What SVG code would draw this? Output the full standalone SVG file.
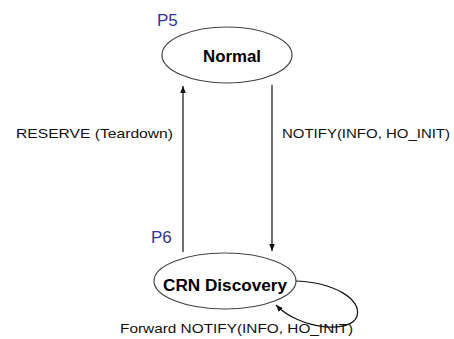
<svg xmlns="http://www.w3.org/2000/svg" width="454" height="339" viewBox="0 0 454 339">
<style>
.state{fill:#fff;stroke:#444;stroke-width:1.2}
.name{font-family:"Liberation Sans",Arial,sans-serif;font-weight:bold;fill:#000}
.lbl{font-family:"Liberation Sans",Arial,sans-serif;font-size:13px;fill:#111}
.tag{font-family:"Liberation Sans",Arial,sans-serif;font-size:17px;fill:#333399}
.edge{fill:none;stroke:#111;stroke-width:1.2}
</style>
<defs>
<marker id="ah" viewBox="0 0 10 10" refX="10" refY="5" markerWidth="7" markerHeight="7" orient="auto" markerUnits="userSpaceOnUse">
<path d="M0,1 L10,5 L0,9 Z" fill="#111"/>
</marker>
</defs>
<rect width="454" height="339" fill="#fff"/>
<g id="connectors">
<line class="edge" x1="183" y1="252" x2="183" y2="86" marker-end="url(#ah)"/>
<line class="edge" x1="272" y1="85" x2="272" y2="251" marker-end="url(#ah)"/>
<path class="edge" d="M294,281 C335,282 362,300 357,316 C352,334 300,330 276,305" marker-end="url(#ah)"/>
<text class="lbl" x="16" y="138" textLength="157" lengthAdjust="spacingAndGlyphs">RESERVE (Teardown)</text>
<text class="lbl" x="282" y="138" textLength="168" lengthAdjust="spacingAndGlyphs">NOTIFY(INFO, HO_INIT)</text>
<text class="lbl" x="120" y="333" textLength="233" lengthAdjust="spacingAndGlyphs">Forward NOTIFY(INFO, HO_INIT)</text>
</g>
<g id="normal">
<ellipse class="state" cx="227" cy="55" rx="65" ry="28"/>
<text class="name" x="232" y="62" font-size="16" text-anchor="middle" textLength="58" lengthAdjust="spacingAndGlyphs">Normal</text>
<text class="tag" x="157" y="26">P5</text>
</g>
<g id="crn-discovery">
<ellipse class="state" cx="225" cy="281" rx="71" ry="28"/>
<text class="name" x="225" y="291" font-size="16" text-anchor="middle" textLength="124" lengthAdjust="spacingAndGlyphs">CRN Discovery</text>
<text class="tag" x="151" y="243">P6</text>
</g>
</svg>
